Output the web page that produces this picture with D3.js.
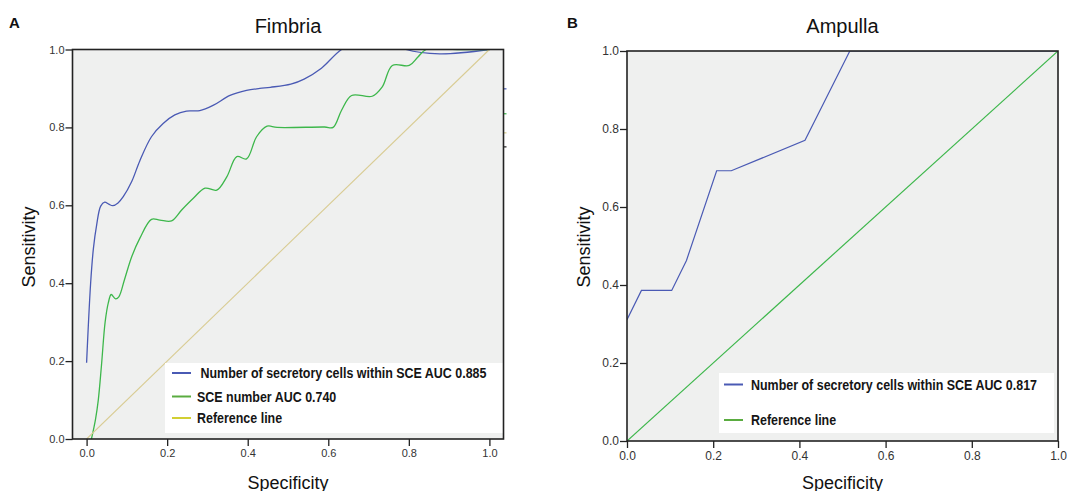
<!DOCTYPE html>
<html>
<head>
<meta charset="utf-8">
<script src="https://cdn.jsdelivr.net/npm/d3@7"></script>
<style>
  body { margin: 0; background: #fff; }
  svg { display: block; }
</style>
</head>
<body>
<svg id="chart"></svg>
<script>
// values (x = specificity axis, y = sensitivity)
const tickValues = [0, 0.2, 0.4, 0.6, 0.8, 1.0];

const fimbriaSecretory = [
  [0, 0.196], [0.010, 0.40], [0.017, 0.49], [0.025, 0.55], [0.035, 0.598], [0.045, 0.608],
  [0.055, 0.603], [0.065, 0.599], [0.078, 0.606], [0.091, 0.622], [0.112, 0.661], [0.132, 0.714],
  [0.161, 0.776], [0.19, 0.81], [0.219, 0.832], [0.248, 0.842], [0.281, 0.843], [0.315, 0.857],
  [0.356, 0.882], [0.397, 0.895], [0.43, 0.900], [0.456, 0.903], [0.507, 0.911], [0.54, 0.924],
  [0.583, 0.952], [0.633, 1.0], [0.713, 1.04], [0.793, 1.0], [0.877, 0.989], [1.0, 1.0]
];
const fimbriaSce = [
  [0.012, 0.0], [0.022, 0.05], [0.029, 0.10], [0.037, 0.19], [0.046, 0.30], [0.054, 0.35],
  [0.061, 0.371], [0.072, 0.36], [0.08, 0.365], [0.094, 0.409], [0.112, 0.468], [0.132, 0.515],
  [0.161, 0.564], [0.182, 0.562], [0.211, 0.560], [0.236, 0.588], [0.265, 0.618], [0.294, 0.644],
  [0.323, 0.639], [0.348, 0.673], [0.373, 0.725], [0.397, 0.719], [0.422, 0.776], [0.448, 0.803],
  [0.473, 0.80], [0.591, 0.801], [0.612, 0.80], [0.633, 0.844], [0.658, 0.882], [0.709, 0.88],
  [0.734, 0.904], [0.759, 0.959], [0.801, 0.959], [0.822, 0.98], [0.843, 1.0], [0.92, 1.0], [1.0, 1.0]
];
const fimbriaReference = [[0, 0], [1, 1]];
const fimbriaLegend = [" Number of secretory cells within SCE AUC 0.885", "SCE number AUC 0.740", "Reference line"];
const fimbriaEdgeMarks = [0.899, 0.835, 0.786, 0.75]; // stray marks right of the frame

const ampullaSecretory = [
  [0, 0.311], [0.0335, 0.386], [0.1037, 0.386], [0.138, 0.463], [0.208, 0.693], [0.242, 0.693],
  [0.413, 0.771], [0.517, 1.0], [1.0, 1.0]
];
const ampullaReference = [[0, 0], [1, 1]];
const ampullaLegend = ["Number of secretory cells within SCE AUC 0.817", "Reference line"];

const font = '"Liberation Sans", Arial, sans-serif';
const blue = '#4a5ab4';
const green = '#3db74b';

let w = 1067;
let h = 491;
let svg = d3.select('#chart').attr('width', w).attr('height', h);
svg.append('rect').attr('width', w).attr('height', h).attr('fill', '#fff');

let drawPanel = (p) => {
  let g = svg.append('g');
  let x = d3.scaleLinear().domain(p.xDomain).range([p.left, p.right]);
  let y = d3.scaleLinear().domain([0, 1]).range([p.bottom, p.top]);

  g.append('rect')
   .attr('x', p.left).attr('y', p.top)
   .attr('width', p.right - p.left).attr('height', p.bottom - p.top)
   .attr('fill', '#eff0ef');

  g.append('clipPath').attr('id', p.id + '-clip')
   .append('rect')
   .attr('x', p.left).attr('y', p.top)
   .attr('width', p.right - p.left).attr('height', p.bottom - p.top);

  let lines = g.append('g').attr('clip-path', 'url(#' + p.id + '-clip)');
  p.series.forEach(s => {
    lines.append('path')
         .datum(s.values)
         .attr('d', d3.line().x(d => x(d[0])).y(d => y(d[1])).curve(s.curve))
         .attr('fill', 'none')
         .attr('stroke', s.color)
         .attr('stroke-width', s.width);
  });

  // legend
  let lg = p.legend;
  g.append('rect')
   .attr('x', lg.x0).attr('y', lg.y0)
   .attr('width', lg.x1 - lg.x0).attr('height', lg.y1 - lg.y0)
   .attr('fill', '#fff');
  p.series.forEach((s, i) => {
    let cy = lg.rows[i];
    g.append('line')
     .attr('x1', lg.lineX0).attr('x2', lg.lineX1)
     .attr('y1', cy).attr('y2', cy)
     .attr('stroke', s.legendColor).attr('stroke-width', 2);
    let t = g.append('text')
     .attr('x', lg.textX).attr('y', cy).attr('dy', '0.36em')
     .attr('font-family', font).attr('font-weight', 'bold').attr('font-size', 15)
     .attr('fill', '#151515')
     .style('white-space', 'pre')
     .text(p.labels[i]);
    // the figure uses a condensed bold face
    let natural = t.node().getComputedTextLength();
    t.attr('textLength', natural * 0.83).attr('lengthAdjust', 'spacingAndGlyphs');
  });

  // axes
  g.append('g')
   .attr('transform', 'translate(' + p.left + ',0)')
   .call(d3.axisLeft(y).tickValues(tickValues).tickFormat(d3.format('.1f')).tickSize(7).tickPadding(1))
   .call(a => a.select('.domain').remove())
   .attr('font-family', font).attr('font-size', p.tickFont)
   .call(a => a.selectAll('line').attr('stroke', '#222').attr('stroke-width', 1.3))
   .call(a => a.selectAll('text').attr('fill', '#333'));

  g.append('g')
   .attr('transform', 'translate(0,' + p.bottom + ')')
   .call(d3.axisBottom(x).tickValues(tickValues).tickFormat(d3.format('.1f')).tickSize(7).tickPadding(3))
   .call(a => a.select('.domain').remove())
   .attr('font-family', font).attr('font-size', p.tickFont)
   .call(a => a.selectAll('line').attr('stroke', '#222').attr('stroke-width', 1.3))
   .call(a => a.selectAll('text').attr('fill', '#333'));

  if (p.edgeMarks) {
    let colors = [blue, green, '#d8cc8e', '#222'];
    p.edgeMarks.forEach((v, i) => {
      g.append('line')
       .attr('x1', p.right + 0.5).attr('x2', p.right + 3)
       .attr('y1', y(v)).attr('y2', y(v))
       .attr('stroke', colors[i]).attr('stroke-width', 1.2);
    });
  }

  // frame
  g.append('rect')
   .attr('x', p.left).attr('y', p.top)
   .attr('width', p.right - p.left).attr('height', p.bottom - p.top)
   .attr('fill', 'none').attr('stroke', '#222').attr('stroke-width', 1.6);

  // texts
  let cx = (p.left + p.right) / 2;
  g.append('text')
   .attr('x', cx).attr('y', 33).attr('text-anchor', 'middle')
   .attr('font-family', font).attr('font-size', 20).attr('fill', '#111')
   .text(p.title);
  g.append('text')
   .attr('x', p.letterX).attr('y', 28)
   .attr('font-family', font).attr('font-weight', 'bold').attr('font-size', 15).attr('fill', '#111')
   .text(p.letter);
  g.append('text')
   .attr('x', cx).attr('y', 489).attr('text-anchor', 'middle')
   .attr('font-family', font).attr('font-size', 18).attr('fill', '#111')
   .text('Specificity');
  g.append('text')
   .attr('transform', 'translate(' + p.yLabelX + ',247) rotate(-90)')
   .attr('text-anchor', 'middle')
   .attr('font-family', font).attr('font-size', 18).attr('fill', '#111')
   .text('Sensitivity');
};

drawPanel({
  id: 'fimbria', title: 'Fimbria', letter: 'A', letterX: 9, yLabelX: 35,
  left: 72.5, right: 503.5, top: 49.5, bottom: 439,
  xDomain: [-0.035, 1.035], tickFont: 11,
  series: [
    { values: fimbriaSecretory, curve: d3.curveCatmullRom, color: blue, legendColor: blue, width: 1.3 },
    { values: fimbriaSce, curve: d3.curveCatmullRom, color: green, legendColor: '#5aac40', width: 1.3 },
    { values: fimbriaReference, curve: d3.curveLinear, color: '#d9cc94', legendColor: '#d2cf33', width: 1.1 }
  ],
  labels: fimbriaLegend,
  edgeMarks: fimbriaEdgeMarks,
  legend: { x0: 165, x1: 503, y0: 363, y1: 433, lineX0: 172, lineX1: 191, textX: 197, rows: [373, 396.5, 418] }
});

drawPanel({
  id: 'ampulla', title: 'Ampulla', letter: 'B', letterX: 567, yLabelX: 590,
  left: 627, right: 1058, top: 51, bottom: 441,
  xDomain: [0, 1], tickFont: 12,
  series: [
    { values: ampullaSecretory, curve: d3.curveLinear, color: blue, legendColor: blue, width: 1.2 },
    { values: ampullaReference, curve: d3.curveLinear, color: green, legendColor: '#5aac40', width: 1.2 }
  ],
  labels: ampullaLegend,
  legend: { x0: 719, x1: 1054, y0: 373, y1: 433, lineX0: 724, lineX1: 743, textX: 751, rows: [384.5, 420] }
});
</script>
</body>
</html>
